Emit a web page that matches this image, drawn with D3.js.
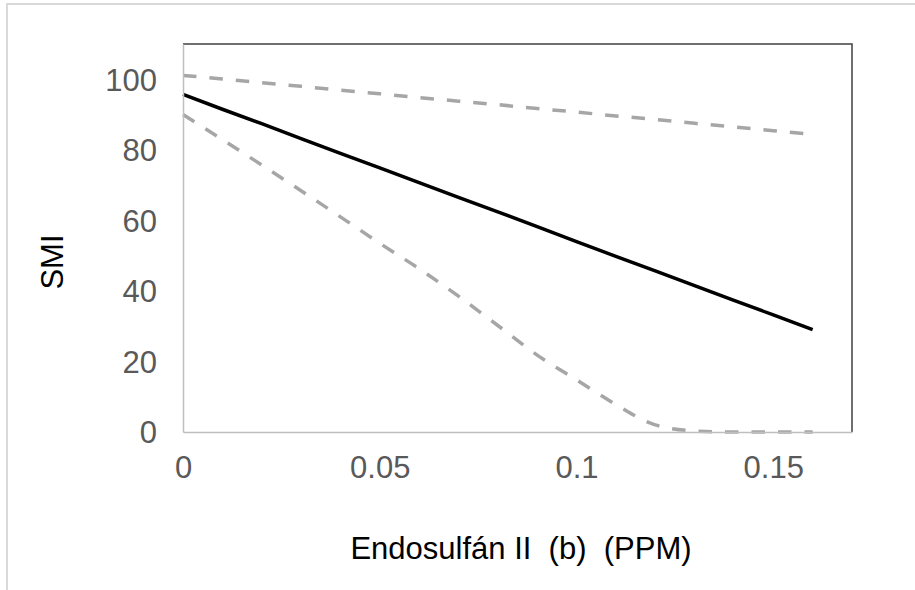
<!DOCTYPE html>
<html><head><meta charset="utf-8">
<script src="https://cdn.jsdelivr.net/npm/d3@7"></script>
<style>body{margin:0;background:#fff}svg{display:block}text{font-family:"Liberation Sans",Arial,sans-serif}</style>
</head><body><svg id="c" width="915" height="590"></svg>
<script>
const xTicks = [0, 0.05, 0.1, 0.15];
const xTickLabels = ["0", "0.05", "0.1", "0.15"];
const yTicks = [0, 20, 40, 60, 80, 100];
const doses = [0, 0.01, 0.02, 0.03, 0.04, 0.05, 0.06, 0.07, 0.08, 0.09, 0.10, 0.11, 0.12, 0.13, 0.14, 0.15, 0.16];
const smiFit = [95.7, 91.5, 87.4, 83.2, 79.0, 74.9, 70.7, 66.5, 62.4, 58.2, 54.0, 49.8, 45.7, 41.5, 37.3, 33.2, 29.0];
const upperBand = [101.1, 100.1, 99.0, 98.0, 96.9, 95.9, 94.8, 93.8, 92.8, 91.7, 90.7, 89.6, 88.6, 87.5, 86.5, 85.4, 84.4];
const lowerBand = [90, 82.9, 75.7, 68.4, 61.0, 53.5, 46.3, 38.5, 30.2, 21.8, 14.8, 7.8, 2.0, 0.3, 0, 0, 0];
const xTitle = "Endosulfán II  (b)  (PPM)";
const yTitle = "SMI";

const svg = d3.select("#c");
const L = 183, R = 852, T = 44, B = 432;
const x = d3.scaleLinear().domain([0, 0.17]).range([L, R]);
const y = d3.scaleLinear().domain([0, 110]).range([B, T]);

// outer chart border (partially visible)
svg.append("rect").attr("x", 7).attr("y", 4).attr("width", 1000).attr("height", 1000)
  .attr("fill", "none").attr("stroke", "#d9d9d9").attr("stroke-width", 2);

// plot border top/right
svg.append("path").attr("d", `M${L},${T}H${R}V${B}`).attr("fill", "none")
  .attr("stroke", "#404040").attr("stroke-width", 1.5);

const line = d3.line().x((d, i) => x(doses[i])).y(d => y(d));
const smooth = d3.line().x((d, i) => x(doses[i])).y(d => y(d)).curve(d3.curveMonotoneX);

svg.append("path").datum(upperBand).attr("d", line).attr("fill", "none")
  .attr("stroke", "#a6a6a6").attr("stroke-width", 3.5).attr("stroke-dasharray", "13.5,13");
svg.append("path").datum(lowerBand).attr("d", smooth).attr("fill", "none")
  .attr("stroke", "#a6a6a6").attr("stroke-width", 3.5).attr("stroke-dasharray", "13.5,13");
svg.append("path").datum(smiFit).attr("d", line).attr("fill", "none")
  .attr("stroke", "#000").attr("stroke-width", 3.5);

// axes
const xAxis = svg.append("g").attr("transform", `translate(0,${B})`)
  .call(d3.axisBottom(x).tickValues(xTicks).tickFormat((d, i) => xTickLabels[i]).tickSize(0).tickPadding(24));
const yAxis = svg.append("g").attr("transform", `translate(${L},0)`)
  .call(d3.axisLeft(y).tickValues(yTicks).tickSize(0).tickPadding(26));
[xAxis, yAxis].forEach(a => {
  a.select(".domain").attr("stroke", "#bfbfbf").attr("stroke-width", 1.5);
  a.selectAll("text").attr("font-size", 31).attr("fill", "#595959")
    .attr("font-family", "Liberation Sans, Arial, sans-serif");
});
yAxis.selectAll("text").attr("dy", "0.35em");

svg.append("text").attr("x", 521).attr("y", 559).attr("text-anchor", "middle")
  .attr("font-size", 31).attr("fill", "#000").style("white-space", "pre").text(xTitle);
svg.append("text").attr("transform", "translate(63,262) rotate(-90)").attr("text-anchor", "middle")
  .attr("font-size", 31).attr("fill", "#000").text(yTitle);
</script></body></html>
